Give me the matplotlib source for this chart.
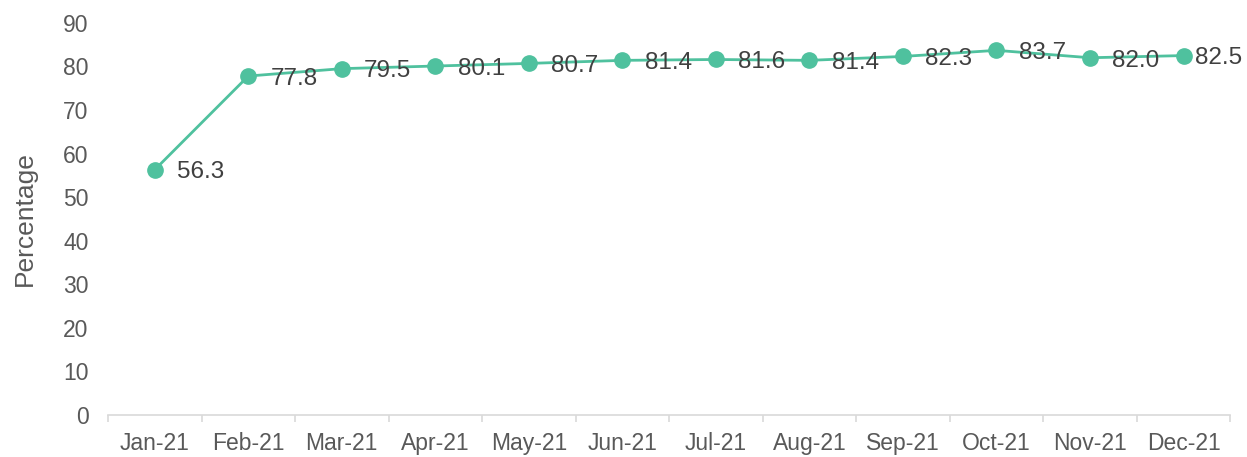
import numpy as np
import matplotlib.pyplot as plt

plt.rcParams['font.family'] = ['Liberation Sans', 'DejaVu Sans']

# Data
months = ['Jan-21', 'Feb-21', 'Mar-21', 'Apr-21', 'May-21', 'Jun-21',
          'Jul-21', 'Aug-21', 'Sep-21', 'Oct-21', 'Nov-21', 'Dec-21']
values = [56.3, 77.8, 79.5, 80.1, 80.7, 81.4, 81.6, 81.4, 82.3, 83.7, 82.0, 82.5]
yticks = [0, 10, 20, 30, 40, 50, 60, 70, 80, 90]

line_color = '#4FC19E'
tick_color = '#595959'
label_color = '#404040'

fig = plt.figure(figsize=(12.47, 4.57), dpi=100)
ax = fig.add_axes([0.0866, 0.0919, 0.9, 0.858])

x = np.arange(len(months))
ax.plot(x, values, color=line_color, lw=2, marker='o', markersize=11,
        clip_on=False, zorder=3)

# labels to the right of the points; the last one is pulled in to stay inside
for i, v in enumerate(values):
    dx = 16 if i < len(values) - 1 else 8
    ax.annotate(f'{v:.1f}', (x[i], v), xytext=(dx, -2), textcoords='offset points',
                ha='left', va='center', fontsize=17.5, color=label_color, zorder=4)

ax.set_xlim(-0.5, len(months) - 0.5)
ax.set_ylim(0, 90)
ax.set_yticks(yticks)
ax.set_xticks(x)
ax.set_xticklabels(months)
ax.set_xticks(np.arange(-0.5, len(months)), minor=True)

for s in ['top', 'right', 'left']:
    ax.spines[s].set_visible(False)
ax.spines['bottom'].set_color('#D9D9D9')
ax.spines['bottom'].set_linewidth(1.2)

ax.tick_params(axis='x', which='major', length=0, pad=12, labelsize=16.5, labelcolor=tick_color)
ax.tick_params(axis='x', which='minor', length=5, width=1.2, color='#D9D9D9')
ax.tick_params(axis='y', length=0, pad=14, labelsize=16.5, labelcolor=tick_color)

ax.set_ylabel('Percentage', fontsize=19, color=tick_color, labelpad=19)

fig.savefig('out.png', dpi=100)
